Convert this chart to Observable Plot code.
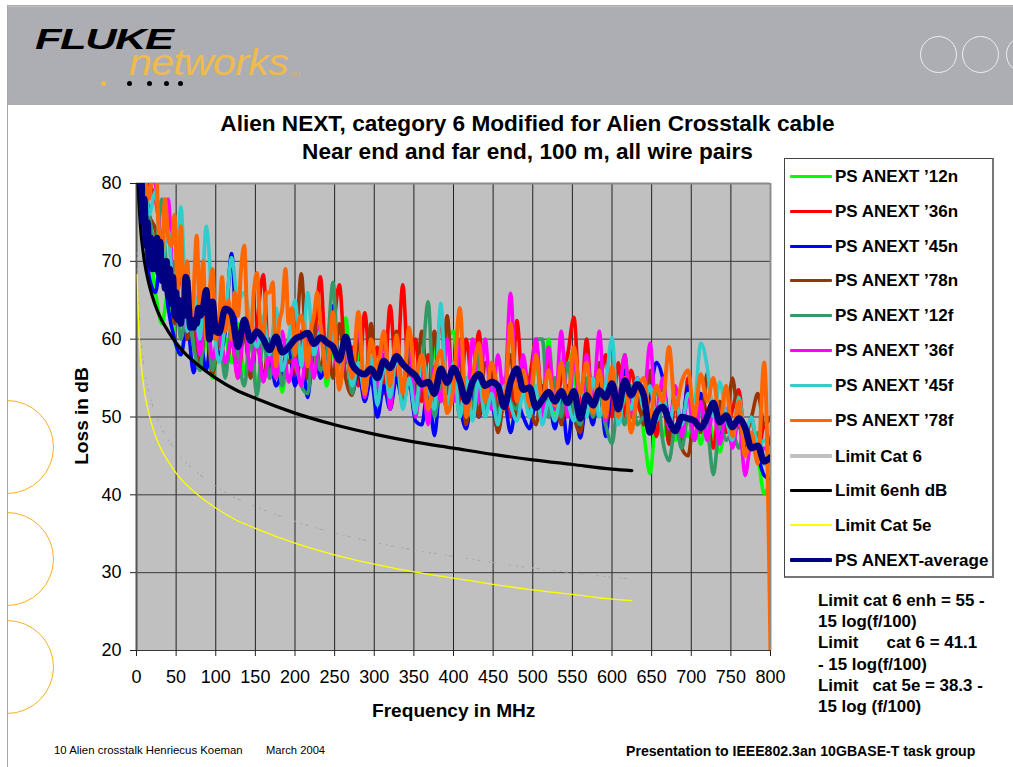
<!DOCTYPE html>
<html><head><meta charset="utf-8">
<script src="https://cdn.jsdelivr.net/npm/d3@7"></script>
<script src="https://cdn.jsdelivr.net/npm/@observablehq/plot@0.6"></script>
<style>
html,body{margin:0;padding:0;background:#fff;}
#page{position:relative;width:1013px;height:767px;overflow:hidden;font-family:"Liberation Sans",Arial,sans-serif;color:#000;}
#page>*{position:absolute;}
.t{white-space:pre;line-height:1;}
.b{font-weight:bold;}
#band{left:8px;top:6px;width:1005px;height:99px;background:#adaeb3;border-top:1px solid #c4c4c4;box-sizing:border-box;}
#vline{left:7px;top:5px;width:1px;height:762px;background:#a8a8a8;}
#hline{left:7px;top:5px;width:1006px;height:1px;background:#a8a8a8;}
.ring{border-radius:50%;box-sizing:border-box;}
.dot{border-radius:50%;width:5px;height:5px;background:#000;top:81px;}
#legend{left:784px;top:158px;width:210px;height:420px;box-sizing:border-box;border:1px solid #444;border-right:2px solid #777;border-bottom:2px solid #777;background:#fff;}
</style></head><body>
<div id="page">
<div id="band"></div><div id="vline"></div><div id="hline"></div>
<div class="ring" style="left:920px;top:36px;width:37px;height:37px;border:1.5px solid #eee"></div>
<div class="ring" style="left:962px;top:36px;width:37px;height:37px;border:1.5px solid #eee"></div>
<div class="ring" style="left:1006px;top:36px;width:37px;height:37px;border:1.5px solid #eee"></div>
<div class="t b" style="left:35px;top:27.5px;font-size:29px;line-height:22px;font-style:italic;transform-origin:0 0;transform:scaleX(1.5);letter-spacing:-1px">FLUKE</div>
<div class="t" style="left:129px;top:48px;font-size:37px;line-height:30px;font-style:italic;color:#efbb4a;transform-origin:0 0;transform:scaleX(1.11);letter-spacing:-.6px">networks</div>
<div class="t" style="left:290px;top:71px;font-size:7px;font-style:italic;color:#d9b25c">TM</div>
<div class="dot" style="left:101px;background:#efbb4a"></div>
<div class="dot" style="left:127px"></div><div class="dot" style="left:147px"></div><div class="dot" style="left:164px"></div><div class="dot" style="left:178px"></div>
<div id="chart" style="left:0;top:0"></div>
<div class="t b" style="left:0;width:1055px;text-align:center;top:110px;font-size:22.6px;line-height:27.5px" id="title">Alien NEXT, category 6 Modified for Alien Crosstalk cable
Near end and far end, 100 m, all wire pairs</div>
<div class="t b" id="xlab" style="left:372px;top:701px;font-size:19.1px">Frequency in MHz</div>
<div class="t b" id="ylab" style="left:82px;top:416px;font-size:19.1px;transform:translate(-50%,-50%) rotate(-90deg)">Loss in dB</div>
<div id="legend"></div>
<div class="t b" id="note" style="left:818px;top:590px;font-size:16.9px;line-height:21.2px">Limit cat 6 enh = 55 -
15 log(f/100)
Limit      cat 6 = 41.1
- 15 log(f/100)
Limit   cat 5e = 38.3 -
15 log (f/100)</div>
<div class="t" style="left:54px;top:745px;font-size:11.4px">10 Alien crosstalk Henriecus Koeman</div>
<div class="t" style="left:266px;top:745px;font-size:11.2px">March 2004</div>
<div class="t b" style="left:626px;top:744px;font-size:14.1px">Presentation to IEEE802.3an 10GBASE-T task group</div>
</div>
<script>
const freqs = [2,8,16,24,32,40,48,56,64,72,
80,88,96,104,112,120,128,136,144,152,
160,168,176,184,192,200,208,216,224,232,
240,248,256,264,272,280,288,296,304,312,
320,328,336,344,352,360,368,376,384,392,
400,408,416,424,432,440,448,456,464,472,
480,488,496,504,512,520,528,536,544,552,
560,568,576,584,592,600,608,616,624,632,
640,648,656,664,672,680,688,696,704,712,
720,728,736,744,752,760,768,776,784,792,
800];
const green12n = [84,78,72,66,62,66,60,58,63,60,
56,60,55,60,60,57,62,55.5,60,53.5,
60,56,58,53.2,59,56,60,54,57,62,
54,59,54,62.7,54,58,53,57,52,56,
52,56,51.5,55,50,55,52,59,52,60,
61,51,54,52,57,51,55,50,54,52,
51,55,50,57,52,60,50.5,57,58.3,55,
51,54,50,53,50,54,50,52.5,50,52,
48,42.7,50,47.5,50,47,50,47.5,50,46.5,
50,47.5,45.5,49,47,49,46.5,47,45,40.2,
42];
const red36n = [84,84,80,78,72,68,65,68,60,64,
57,62,56,62,56.5,60,55,61,56,62,
68.3,55,60,54.5,60,55,61,55,59,68,
56,61,67,57,59,54,63.4,55,59,53,
64.3,55,67,54,60,52,58,55,63,53,
57,52,60,54,61,52,56,51,54,50,
62.4,53,55,59.8,52,57,51,55,58,62.8,
51,60,50,53.5,58,50,57,50,56,52,
50,54,47.5,53,46.5,52,46,55,49,53,
50,46,52,48,51,53.5,47,50,45,49,
45];
const blue45n = [84,80,68,66,72,64,60,58,62,55.7,
60,56,62,58,61,71,58,61,56,60,
55,58,54,56,59,54,58,52.5,60,55,
58,64.3,56,60,53,56,52,55,50,54,
51,55,52,54.5,49.5,49,54,47.6,55,51,
53,51,48.5,53,50,53,52,48.5,52,48,
52,50,48.5,52,50,52,48.5,53,46.6,52,
47.3,52,49,55,47.5,54,50,56,51,55,
50,53,57,55,50,52,49,54,50,53,
49,52,47,51,48.5,49,46,47,45,42.5,
42];
const brown78n = [84,82,76,74,68,75.5,62,74,60,62,
57,62,55.5,60,56,60,57,61,55,60,
55,60,55,59,57,58,68.4,55,62,56,
60,55,62,55,52.8,60,53,62,53.5,58,
53,61,52,58,53,61,53,61,52,63,
52,58,49,56,50,57,55,48,53,58,
50,57,52,49,54,50,55,49,54,50,
48,54,50,57,49,56,52,58,50,54,
49,56,50,54,47,53,46,45,50,48,
55.6,50,52,49,55,49,48,50,53,49,
50];
const seagreen12f = [84,82,76,72,78,66,70,60,64,59,
56,64,56,61,55,62,58,54,60,52.8,
60,55,59,54,60,57,54,53,60,56,
58,67.3,54,59,53,57,53.5,58,54,60,
52,58,53,60,51,56,64.8,50,54,51,
56,50,55,51,58,51,54,50,55,52,
51,56,50,60,60,50,55,50,57,51,
49,55,50,53,49,46.6,52,49,54,49,
50,49,54,47,44.4,49,46,50,47,51,
49,42.6,49,47,48,46,49,46,48,44,
44];
const magenta36f = [84,84,84,80,72,78,64,72,61,66,
58,64,57.5,61,57,60,55,62,56,60,
54.5,58,55,61,54.5,57.5,54,60,55,62,
56,60,54,58,56,62,52.5,59,52,61,
51,59,53,61,50,56,49,56.5,52,60,
52,60,50.5,60,52,60,51,58,52.5,65.9,
52,58,52,60,50,59,51,61,50,58,
50,58,52,61,49.5,56,52,58,50,55,
52,59.5,50,55,48.5,54,47.5,53,47,52,
47,51,46.5,51,46,50,42.5,47,44.5,46,
45];
const teal45f = [84,82,76,79,70,74,63,77,61,66,
60,74.5,64,57,62,70.5,65,66,62,59,
63,58,64,56,60,65,56.5,66,58,61,
56,61,55.5,60,54,57,53,58,51.5,57,
52.5,58,51,55,50.5,58,54,51,64.6,50.5,
57,50,55,49.5,55,50,53,49,54,51.5,
49.5,53,50,54,49,52,49.5,53,52,49.5,
54,50,55,50,54,60.2,49,53,51,55,
51,54,49.5,53,49,52.5,49,53,52,59.5,
56.5,50,54.5,50,47,52.5,48,50,46,47,
45];
const orangeFreqs = [2,4,8,12,16,20,24,28,32,36,40,44,48,52,56,60,64,68,72,76,
80,84,88,92,96,100,104,108,112,116,120,124,128,132,136,140,144,148,152,156,
160,164,168,172,176,180,184,188,192,196,200,204,208,212,216,220,224,228,232,236,240,
248,256,264,272,280,288,296,304,312,
320,328,336,344,352,360,368,376,384,392,
400,408,416,424,432,440,448,456,464,472,
480,488,496,504,512,520,528,536,544,552,
560,568,576,584,592,600,608,616,624,632,
640,648,656,664,672,680,688,696,704,712,
720,728,736,744,752,760,768,776,784,792,
800];
const orange78f = [86,85,83,80,78,82,84,74,71,78,73,72,76,66,74.5,64,70,62,66,73.3,
63,70,60,66,69,60,62,68,61,65,60,66,63,69,72,62,60,66,68.5,62,
60,66,66,67.3,56.5,62,64,69,62,64,58,62,63,60,56.5,61,63,66,62,58,55,
63.5,53.5,60,55,63.5,53,60,56,61,
54,60.5,53,61.5,55,58,51,55.5,58.5,50.5,
54,64,50,55,59.5,52,57,53.5,51,62,
52,56,51.5,58,52,56,51.5,57,52,59,
53,57,50.5,56,50,56.5,50,55,48,53,
55,50,54,52,59,51,54.5,56,50,55.5,
52,55,49,54,47.5,52,45,48,44,57,
20];
const avgFreqs = [2,4,6,8,10,12,14,16,18,20,22,24,26,28,30,32,34,36,38,40,
42,44,46,48,50,52,54,56,58,60,62,64,66,68,70,72,74,76,78,80,
84,88,92,96,100,104,112,120,128,136,144,152,
160,168,176,184,192,200,208,216,224,232,
240,248,256,264,272,280,288,296,304,312,
320,328,336,344,352,360,368,376,384,392,
400,408,416,424,432,440,448,456,464,472,
480,488,496,504,512,520,528,536,544,552,
560,568,576,584,592,600,608,616,624,632,
640,648,656,664,672,680,688,696,704,712,
720,728,736,744,752,760,768,776,784,792,
800];
const average = [84,80,81,75,78,72,75,69.5,73,69,72.5,69,73,68.5,72.5,67.5,70,66.5,70,65.5,
69,64.5,68,63,66,62.5,65,62,64,63,68,67.5,64,61.5,62,61.5,62.5,62,64,63,
64,66.3,60,64.8,61,60.8,63.9,63.3,59,62.5,59.8,61,
60,58.6,60.3,58.3,59,60,60.4,60.8,59.4,60.2,
59.6,59,57.3,60.3,56.8,55.8,55.5,56.2,55,57.2,
56.3,57.8,56.8,56,55.3,54.2,54.5,53,56.2,54.4,
56.3,54.6,52,54.5,55.5,54,54.5,54,51.3,54.5,
56.2,53.5,53.8,51.2,52.2,53.2,52,53.3,51.8,53.3,
49.8,52.8,51.5,53.4,52.5,54.3,51,54.7,52.8,54.2,
52.8,48,50.5,51.3,49.5,48.2,50,49.8,49.5,48.6,
50,51.8,49.3,50.2,48.7,49.8,48.6,46,46.3,44.3,
44.8];
const limitFreqs = [1,1.5,2,3,4,5,6,8,10,15,20,25,30,40,50,60,75,100,125,150,200,250,300,350,400,450,500,550,600,625];
const limitCat6 = [71.1,68.5,66.6,63.9,62.1,60.6,59.4,57.6,56.1,53.5,51.6,50.1,48.9,47.1,45.6,44.4,43,41.1,39.6,38.5,36.6,35.1,33.9,32.9,32.1,31.3,30.6,30,29.4,29.2];
const limit6enh = [85,82.4,80.5,77.8,76,74.5,73.3,71.5,70,67.4,65.5,64,62.8,61,59.5,58.3,56.9,55,53.5,52.4,50.5,49,47.8,46.8,46,45.2,44.5,43.9,43.3,43.1];
const limitCat5e = [68.3,65.7,63.8,61.1,59.3,57.8,56.6,54.8,53.3,50.7,48.8,47.3,46.1,44.3,42.8,41.6,40.2,38.3,36.8,35.7,33.8,32.3,31.1,30.1,29.3,28.5,27.8,27.2,26.6,26.4];
const xTicks = [0,50,100,150,200,250,300,350,400,450,500,550,600,650,700,750,800];
const yTicks = [20,30,40,50,60,70,80];
const seriesNames = ["PS ANEXT \u201912n","PS ANEXT \u201936n","PS ANEXT \u201945n","PS ANEXT \u201978n","PS ANEXT \u201912f","PS ANEXT \u201936f","PS ANEXT \u201945f","PS ANEXT \u201978f","Limit Cat 6","Limit 6enh dB","Limit Cat 5e","PS ANEXT-average"];
const seriesColors = ["#00ff00","#ff0000","#0000ff","#993300","#339966","#ff00ff","#33cccc","#ff6600","#c0c0c0","#000000","#ffff00","#000080"];
const legendWidths = [3,3,3,3,3,3,3,3,4,3,1.5,4];

const noisy = [green12n,red36n,blue45n,brown78n,seagreen12f,magenta36f,teal45f];
const noisyMarks = noisy.map((s,k)=>Plot.line(s,{x:(d,i)=>freqs[i],y:d=>d,stroke:seriesColors[k],strokeWidth:3.6,curve:"monotone-x",clip:true}));
const limit = (s,c,w,extra={})=>Plot.line(s,{x:(d,i)=>limitFreqs[i],y:d=>d,stroke:c,strokeWidth:w,curve:"monotone-x",clip:true,...extra});

const chart = Plot.plot({
  width:1013,height:767,
  marginLeft:136,marginRight:243,marginTop:183,marginBottom:117,
  x:{domain:[0,800]},
  y:{domain:[20,80]},
  style:{background:"transparent",fontFamily:"Liberation Sans, Arial, sans-serif",color:"#000",overflow:"visible"},
  marks:[
    Plot.frame({fill:"#c0c0c0",stroke:null}),
    Plot.gridX(xTicks,{stroke:"#222",strokeOpacity:1,strokeWidth:1}),
    Plot.gridY(yTicks,{stroke:"#3a3a3a",strokeOpacity:1,strokeWidth:1}),
    Plot.ruleY([80],{stroke:"#8a8a8a",strokeWidth:2}),
    Plot.ruleX([800],{stroke:"#8f8f8f",strokeWidth:2}),
    Plot.ruleX([0],{stroke:"#555",strokeWidth:2}),
    Plot.axisX({ticks:xTicks,tickSize:6,tickPadding:14,label:null,fontSize:18,stroke:"#222"}),
    Plot.axisY({ticks:yTicks,tickSize:6,tickPadding:9,label:null,fontSize:18,stroke:"#222"}),
    ...noisyMarks,
    Plot.line(orange78f,{x:(d,i)=>orangeFreqs[i],y:d=>d,stroke:seriesColors[7],strokeWidth:4,curve:"monotone-x",clip:true}),
    limit(limitCat6,"#a9a9a9",1.2,{strokeDasharray:"1 4 2 9 1 3 3 14 1 6"}),
    limit(limit6enh,"#000",3.2),
    limit(limitCat5e,"#ffff00",1.3),
    Plot.line(average,{x:(d,i)=>avgFreqs[i],y:d=>d,stroke:seriesColors[11],strokeWidth:6.5,curve:"monotone-x",clip:true})
  ]
});
document.getElementById("chart").append(chart);

const lg = document.getElementById("legend");
const rowY = [176,211,246,280,315,350,385,420,456,490,525,560];
seriesNames.forEach((n,i)=>{
  const sw=document.createElement("div");
  const h=legendWidths[i];
  sw.style.cssText=`position:absolute;left:5px;width:42px;height:${h}px;top:${rowY[i]-159-h/2}px;background:${seriesColors[i]};border-radius:1px`;
  lg.append(sw);
  const t=document.createElement("div");
  t.className="t b";
  t.textContent=n;
  t.style.cssText=`position:absolute;left:50px;top:${rowY[i]-159-8}px;font-size:17px`;
  lg.append(t);
});
[[8,447],[8,558.5],[8,667]].forEach(([x,y])=>{
  const wrap=document.createElement("div");
  wrap.style.cssText=`left:8px;top:${y-48}px;width:50px;height:96px;overflow:hidden;`;
  const r=document.createElement("div");
  r.className="ring";
  r.style.cssText=`position:absolute;left:-48px;top:1px;width:94px;height:94px;border:1.3px solid #f5b21e`;
  wrap.append(r);
  document.getElementById("page").append(wrap);
});
</script>
</body></html>
